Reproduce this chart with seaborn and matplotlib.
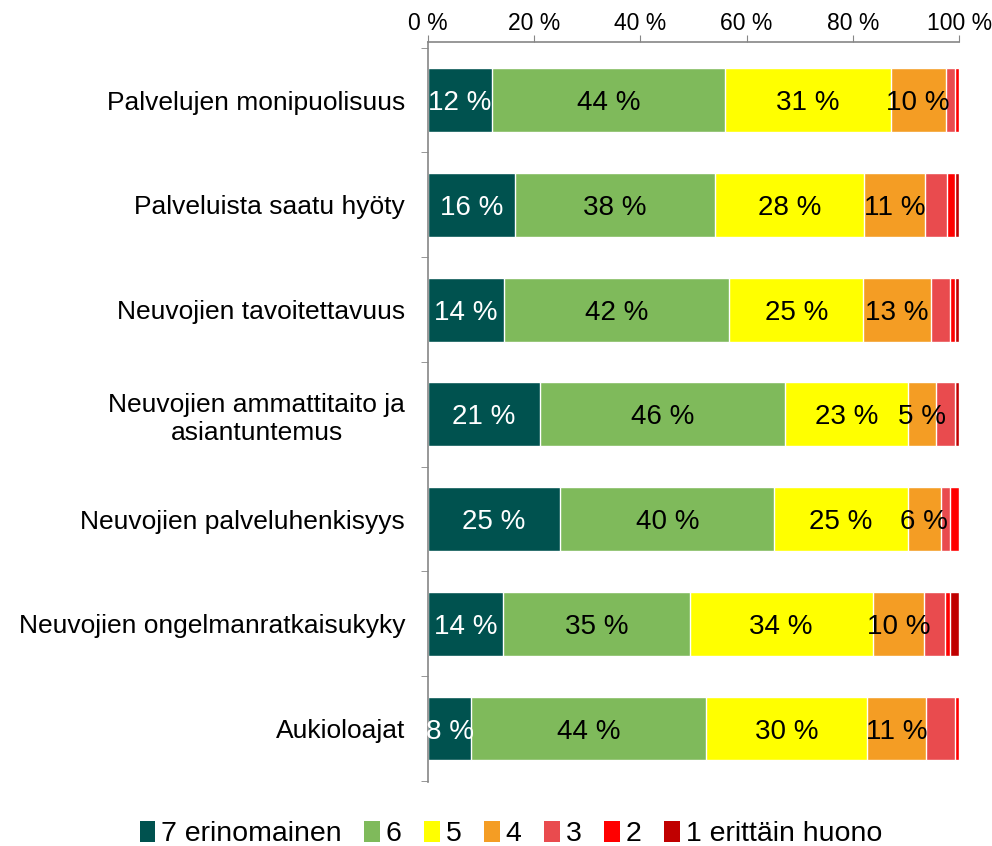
import matplotlib
matplotlib.use("Agg")
import matplotlib.pyplot as plt
import seaborn as sns
import numpy as np
import pandas as pd
from matplotlib.patches import Patch
from matplotlib.ticker import FuncFormatter, FixedLocator

# Kategoriat ja osuudet (%)
kategoriat = [
    "Palvelujen monipuolisuus",
    "Palveluista saatu hyöty",
    "Neuvojien tavoitettavuus",
    "Neuvojien ammattitaito ja\nasiantuntemus",
    "Neuvojien palveluhenkisyys",
    "Neuvojien ongelmanratkaisukyky",
    "Aukioloajat",
]
sarjat = ["7 erinomainen", "6", "5", "4", "3", "2", "1 erittäin huono"]

arvo_7 = [12.1, 16.4, 14.3, 21.1, 24.9, 14.1, 8.1]
arvo_6 = [43.8, 37.7, 42.4, 46.1, 40.3, 35.2, 44.3]
arvo_5 = [31.2, 28.0, 25.3, 23.1, 25.1, 34.4, 30.3]
arvo_4 = [10.4, 11.4, 12.7, 5.4, 6.3, 9.7, 11.0]
arvo_3 = [1.8, 4.2, 3.6, 3.5, 1.7, 3.9, 5.5]
arvo_2 = [0.6, 1.6, 0.9, 0.0, 1.7, 0.9, 0.8]
arvo_1 = [0.1, 0.7, 0.8, 0.8, 0.0, 1.8, 0.0]

varit = ["#00524F", "#7FBA5B", "#FFFF00", "#F49D24", "#E94B4E", "#FF0000", "#C00000"]
tekstivarit = ["white", "black", "black", "black"]  # arvot vain neljälle ensimmäiselle sarjalle

sns.set_style("white")
plt.rcParams["font.family"] = ["Liberation Sans", "DejaVu Sans"]
plt.rcParams["text.color"] = "black"
plt.rcParams["xtick.color"] = "#868686"
plt.rcParams["ytick.color"] = "#868686"
plt.rcParams["xtick.labelcolor"] = "black"
plt.rcParams["ytick.labelcolor"] = "black"

df = pd.DataFrame(
    np.array([arvo_7, arvo_6, arvo_5, arvo_4, arvo_3, arvo_2, arvo_1]).T,
    index=kategoriat, columns=sarjat,
)
kumul = df.cumsum(axis=1)

fig = plt.figure(figsize=(9.92, 8.46), dpi=100)
ax = fig.add_axes([0.4315, 0.0757, 0.5353, 0.8747])

# Pinotut palkit: piirretään kumulatiiviset summat suurimmasta pienimpään
for i in range(len(sarjat) - 1, -1, -1):
    sns.barplot(x=kumul.iloc[:, i].values, y=kategoriat, orient="h",
                color=varit[i], saturation=1, width=0.61, ax=ax)

# Arvotekstit
for i, s in enumerate(sarjat[:4]):
    for j, k in enumerate(kategoriat):
        v = df.loc[k, s]
        keski = kumul.loc[k, s] - v / 2
        ax.text(keski, j, f"{v:.0f} %", ha="center", va="center_baseline",
                fontsize=20, color=tekstivarit[i])

ax.set_xlim(0, 100)
ax.set_ylim(6.51, -0.555)
ax.set_xlabel("")
ax.set_ylabel("")

ax.xaxis.tick_top()
ax.xaxis.set_major_locator(FixedLocator([0, 20, 40, 60, 80, 100]))
ax.xaxis.set_major_formatter(FuncFormatter(lambda x, p: f"{x:.0f} %"))
ax.tick_params(axis="x", which="major", top=True, bottom=False, length=5,
               direction="out", labelsize=16.5, pad=0)

ax.set_yticks(range(len(kategoriat)))
ax.set_yticklabels(kategoriat, fontsize=19)
ax.tick_params(axis="y", which="major", length=0, pad=16.5)
ax.set_yticks(np.arange(-0.5, 7.0, 1.0), minor=True)
ax.tick_params(axis="y", which="minor", left=True, length=5, direction="out")
for lbl in ax.get_yticklabels():
    lbl.set_multialignment("center")

for sp in ["right", "bottom"]:
    ax.spines[sp].set_visible(False)
for sp in ["top", "left"]:
    ax.spines[sp].set_color("#868686")
    ax.spines[sp].set_linewidth(1.2)

kahvat = [Patch(facecolor=c, edgecolor="none", label=s) for c, s in zip(varit, sarjat)]
fig.legend(handles=kahvat, loc="center", bbox_to_anchor=(0.515, 0.014),
           ncol=7, frameon=False, fontsize=20.5, handlelength=0.55,
           handleheight=0.75, handletextpad=0.2, columnspacing=0.8)

fig.savefig("out.png", dpi=100)
